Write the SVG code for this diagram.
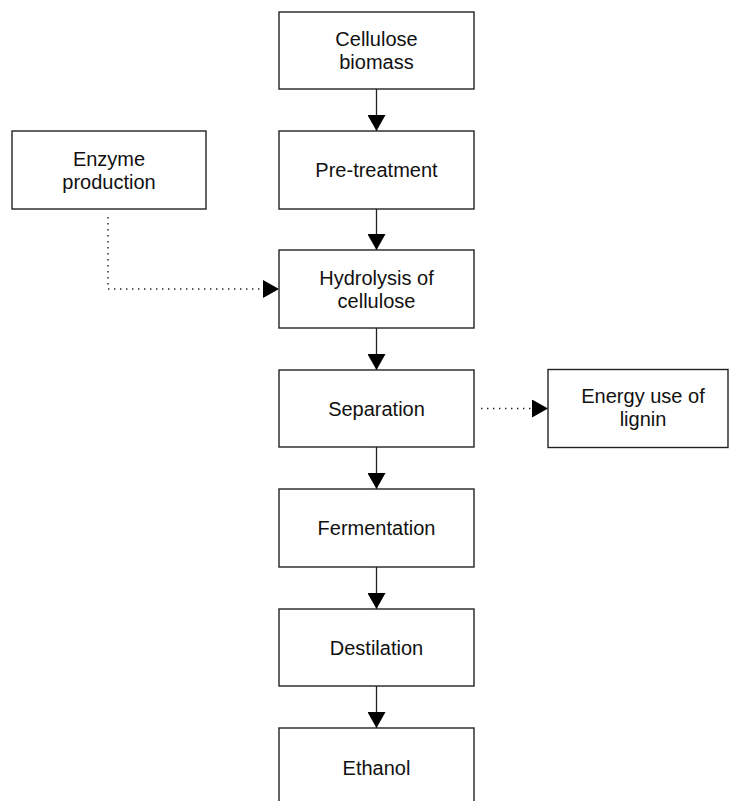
<svg xmlns="http://www.w3.org/2000/svg" width="730" height="801" viewBox="0 0 730 801">
<defs>
<style>
.box{fill:#fff;stroke:#222;stroke-width:1.4}
.t{font-family:"Liberation Sans",Arial,sans-serif;font-size:20px;fill:#111;text-anchor:middle}
.ln{stroke:#222;stroke-width:1.3;fill:none}
.dot{stroke:#222;stroke-width:1.4;fill:none;stroke-dasharray:1.4 4.6}
</style>
<marker id="ah" viewBox="0 0 16 18" refX="16" refY="9" markerWidth="16" markerHeight="18" markerUnits="userSpaceOnUse" orient="auto">
<path d="M0,0 L16,9 L0,18 Z" fill="#000"/>
</marker>
</defs>
<rect width="730" height="801" fill="#fff"/>
<g id="connectors">
<line class="ln" x1="376.5" y1="89" x2="376.5" y2="131" marker-end="url(#ah)"/>
<line class="ln" x1="376.5" y1="209" x2="376.5" y2="250" marker-end="url(#ah)"/>
<line class="ln" x1="376.5" y1="328" x2="376.5" y2="370" marker-end="url(#ah)"/>
<line class="ln" x1="376.5" y1="447" x2="376.5" y2="489" marker-end="url(#ah)"/>
<line class="ln" x1="376.5" y1="567" x2="376.5" y2="609" marker-end="url(#ah)"/>
<line class="ln" x1="376.5" y1="686" x2="376.5" y2="728" marker-end="url(#ah)"/>
<polyline class="dot" points="108,217 108,289 263,289"/>
<line class="ln" x1="262" y1="289" x2="279" y2="289" marker-end="url(#ah)" stroke-opacity="0"/>
<line class="dot" x1="481" y1="408.5" x2="531" y2="408.5"/>
<line class="ln" x1="530" y1="408.5" x2="548" y2="408.5" marker-end="url(#ah)" stroke-opacity="0"/>
</g>
<g id="cellulose-biomass"><rect class="box" x="279" y="12" width="195" height="77"/><text class="t" x="376.5" y="46">Cellulose</text><text class="t" x="376.5" y="69">biomass</text></g>
<g id="pre-treatment"><rect class="box" x="279" y="131" width="195" height="78"/><text class="t" x="376.5" y="177">Pre-treatment</text></g>
<g id="enzyme-production"><rect class="box" x="12" y="131" width="194" height="78"/><text class="t" x="109" y="166">Enzyme</text><text class="t" x="109" y="189">production</text></g>
<g id="hydrolysis"><rect class="box" x="279" y="250" width="195" height="78"/><text class="t" x="376.5" y="285">Hydrolysis of</text><text class="t" x="376.5" y="308">cellulose</text></g>
<g id="separation"><rect class="box" x="279" y="370" width="195" height="77"/><text class="t" x="376.5" y="415.5">Separation</text></g>
<g id="energy-use"><rect class="box" x="548" y="369.5" width="180" height="78"/><text class="t" x="643" y="403">Energy use of</text><text class="t" x="643" y="426">lignin</text></g>
<g id="fermentation"><rect class="box" x="279" y="489" width="195" height="78"/><text class="t" x="376.5" y="535">Fermentation</text></g>
<g id="destilation"><rect class="box" x="279" y="609" width="195" height="77"/><text class="t" x="376.5" y="654.5">Destilation</text></g>
<g id="ethanol"><rect class="box" x="279" y="728" width="195" height="78"/><text class="t" x="376.5" y="775">Ethanol</text></g>
</svg>
